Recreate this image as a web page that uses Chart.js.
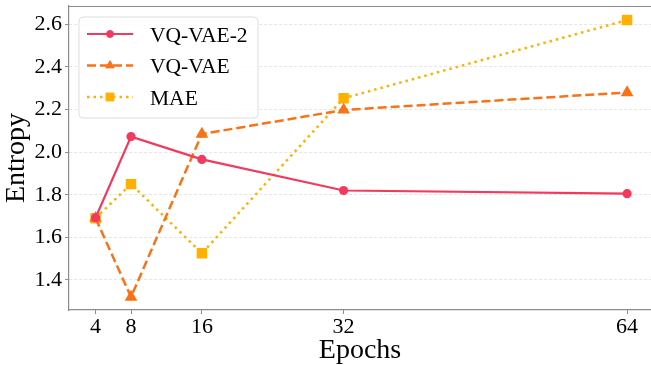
<!DOCTYPE html>
<html><head><meta charset="utf-8">
<script src="https://cdn.jsdelivr.net/npm/chart.js@4/dist/chart.umd.min.js"></script>
<style>html,body{margin:0;padding:0;background:#fff;}#wrap{width:651px;height:365px;}</style>
</head><body><div id="wrap"><canvas id="c" width="651" height="365"></canvas></div>
<script>
const epochs = [4, 8, 16, 32, 64];
const vqvae2 = [1.692, 2.073, 1.966, 1.82, 1.805];
const vqvae = [1.69, 1.32, 2.085, 2.198, 2.28];
const mae = [1.69, 1.85, 1.525, 2.253, 2.62];
const yTicks = [1.4, 1.6, 1.8, 2.0, 2.2, 2.4, 2.6];
const seriesNames = ['VQ-VAE-2', 'VQ-VAE', 'MAE'];

const FONT = "'Liberation Serif', 'Times New Roman', serif";
const toPts = arr => epochs.map((e, i) => ({x: e, y: arr[i]}));

function drawMarker(ctx, style, x, y, r, color) {
  ctx.save();
  ctx.fillStyle = color; ctx.strokeStyle = color; ctx.lineWidth = 1; ctx.setLineDash([]);
  ctx.beginPath();
  if (style === 'circle') {
    ctx.arc(x, y, r, 0, Math.PI * 2);
  } else if (style === 'triangle') {
    ctx.moveTo(x, y - r);
    ctx.lineTo(x + r * 0.866, y + r * 0.5);
    ctx.lineTo(x - r * 0.866, y + r * 0.5);
    ctx.closePath();
  } else {
    const s = r * Math.SQRT1_2;
    ctx.rect(x - s, y - s, 2 * s, 2 * s);
  }
  ctx.fill(); ctx.stroke();
  ctx.restore();
}

const framePlugin = {
  id: 'frame',
  afterDraw(chart) {
    const {ctx, chartArea: a} = chart;
    ctx.save();
    ctx.strokeStyle = '#8c8c8c'; ctx.lineWidth = 1.2;
    ctx.beginPath(); ctx.moveTo(a.left, a.top + 0.5); ctx.lineTo(a.right, a.top + 0.5); ctx.stroke();
    ctx.restore();
    // legend
    const x0 = a.left + 10, y0 = a.top + 11, w = 179, h = 101, r = 4;
    ctx.save();
    ctx.beginPath();
    ctx.moveTo(x0 + r, y0); ctx.lineTo(x0 + w - r, y0); ctx.quadraticCurveTo(x0 + w, y0, x0 + w, y0 + r);
    ctx.lineTo(x0 + w, y0 + h - r); ctx.quadraticCurveTo(x0 + w, y0 + h, x0 + w - r, y0 + h);
    ctx.lineTo(x0 + r, y0 + h); ctx.quadraticCurveTo(x0, y0 + h, x0, y0 + h - r);
    ctx.lineTo(x0, y0 + r); ctx.quadraticCurveTo(x0, y0, x0 + r, y0);
    ctx.closePath();
    ctx.fillStyle = 'rgba(255,255,255,0.85)'; ctx.fill();
    ctx.strokeStyle = '#dddddd'; ctx.lineWidth = 1; ctx.stroke();
    chart.data.datasets.forEach((ds, i) => {
      const cy = y0 + 17 + i * 31.5;
      ctx.save();
      ctx.strokeStyle = ds.borderColor; ctx.lineWidth = ds.borderWidth;
      ctx.setLineDash(ds.borderDash || []);
      ctx.beginPath(); ctx.moveTo(x0 + 8, cy); ctx.lineTo(x0 + 54, cy); ctx.stroke();
      ctx.restore();
      drawMarker(ctx, ds.pointStyle, x0 + 31, cy, ds.pointRadius, ds.pointBackgroundColor);
      ctx.fillStyle = '#000'; ctx.font = '21.5px ' + FONT; ctx.textBaseline = 'alphabetic'; ctx.textAlign = 'left';
      ctx.fillText(ds.label, x0 + 71, cy + 7.5);
    });
    ctx.restore();
  }
};

const red = '#f23a5e', orange = '#f97316', gold = '#ffb000';

new Chart(document.getElementById('c'), {
  type: 'line',
  data: {
    datasets: [
      {label: seriesNames[0], data: toPts(vqvae2), borderColor: red, backgroundColor: red, pointBackgroundColor: red, pointBorderColor: red, borderWidth: 2.2, pointStyle: 'circle', pointRadius: 3.5, borderDash: []},
      {label: seriesNames[1], data: toPts(vqvae), borderColor: orange, backgroundColor: orange, pointBackgroundColor: orange, pointBorderColor: orange, borderWidth: 2.5, pointStyle: 'triangle', pointRadius: 4.8, borderDash: [9, 4]},
      {label: seriesNames[2], data: toPts(mae), borderColor: gold, backgroundColor: gold, pointBackgroundColor: gold, pointBorderColor: gold, borderWidth: 2.5, pointStyle: 'rect', pointRadius: 5.6, borderDash: [2.5, 4]}
    ]
  },
  options: {
    responsive: false, animation: false, devicePixelRatio: 1,
    layout: {autoPadding: false, padding: {top: 6, left: 0, right: 0, bottom: 0}},
    plugins: {legend: {display: false}, tooltip: {enabled: false}},
    elements: {line: {tension: 0}},
    scales: {
      x: {
        type: 'linear', min: 1, max: 66.7,
        afterBuildTicks: s => { s.ticks = epochs.map(v => ({value: v})); },
        afterFit: s => { s.height = 55; s.paddingLeft = 0; s.paddingRight = 0; },
        ticks: {font: {family: FONT, size: 22}, color: '#000', padding: 0, maxRotation: 0, autoSkip: false, callback: v => String(v)},
        grid: {drawOnChartArea: false, drawTicks: true, tickLength: 4, tickColor: '#8c8c8c', tickWidth: 1},
        border: {display: true, color: '#8c8c8c', width: 1.2},
        title: {display: true, text: 'Epochs', font: {family: FONT, size: 28, lineHeight: 1.0}, color: '#000', padding: {top: 0, bottom: 0}}
      },
      y: {
        type: 'linear', min: 1.259, max: 2.686,
        afterBuildTicks: s => { s.ticks = yTicks.map(v => ({value: v})); },
        afterFit: s => { s.width = 69; s.paddingTop = 0; s.paddingBottom = 0; },
        ticks: {font: {family: FONT, size: 22}, color: '#000', padding: 3, callback: v => Number(v).toFixed(1)},
        grid: {drawOnChartArea: true, drawTicks: true, tickLength: 4, color: '#dedede', lineWidth: 0.8, tickColor: '#8c8c8c', tickWidth: 1, tickBorderDash: []},
        border: {display: true, color: '#8c8c8c', width: 1.2, dash: [3, 2]},
        title: {display: true, text: 'Entropy', font: {family: FONT, size: 28, lineHeight: 1.0}, color: '#000', padding: {top: 2.5, bottom: 0}}
      }
    }
  },
  plugins: [framePlugin]
});
</script>
</body></html>
